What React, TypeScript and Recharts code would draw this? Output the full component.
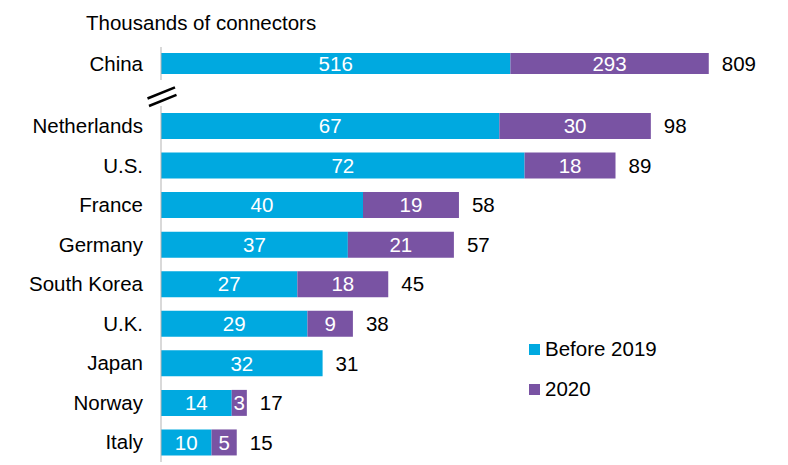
import React from 'react';
import { BarChart, Bar, XAxis, YAxis, LabelList, Legend } from 'recharts';

const categories = ['China', 'Netherlands', 'U.S.', 'France', 'Germany', 'South Korea', 'U.K.', 'Japan', 'Norway', 'Italy'];
const before2019 = [516, 67, 72, 40, 37, 27, 29, 32, 14, 10];
const in2020 = [293, 30, 18, 19, 21, 18, 9, 0, 3, 5];
const totals = [809, 98, 89, 58, 57, 45, 38, 31, 17, 15];
const seriesNames = ['Before 2019', '2020'];

const BLUE = '#00A9E0';
const PURPLE = '#7953A3';
const FONT = 'Arial, "Liberation Sans", sans-serif';
const FS = 20.5;

const rows = categories.map((name, i) => ({
  name,
  before: before2019[i],
  after: in2020[i],
  total: totals[i],
}));
const chinaRows = rows.slice(0, 1);
const otherRows = rows.slice(1);

const hideZero = (v: any) => (v ? v : '');

function LegendContent(props: any) {
  const payload = [...(props.payload || [])].sort(
    (a: any, b: any) => seriesNames.indexOf(a.value) - seriesNames.indexOf(b.value)
  );
  return (
    <div style={{ fontFamily: FONT, fontSize: FS, color: '#000' }}>
      {payload.map((p: any) => (
        <div key={p.value} style={{ display: 'flex', alignItems: 'center', height: 40 }}>
          <span style={{ display: 'inline-block', width: 11, height: 11, background: p.color, marginRight: 5 }} />
          <span>{p.value}</span>
        </div>
      ))}
    </div>
  );
}

function makeTotalLabel(data: any[]) {
  return (props: any) => {
    const { x, y, width, height, index } = props;
    const d = data[index];
    if (!d || !d.before) return null;
    const end = Number(x) + (Number(width) * (d.before + d.after)) / d.before;
    return (
      <text x={end + 13} y={Number(y) + Number(height) / 2} dy="0.355em" textAnchor="start" fontSize={FS} fontFamily={FONT} fill="#000">
        {d.total}
      </text>
    );
  };
}

export default function App() {
  const axisStroke = '#b3b3b3';
  const tick = { fill: '#000', fontSize: FS, fontFamily: FONT };
  const inner = { fill: '#fff', fontSize: FS, fontFamily: FONT };
  return (
    <div style={{ position: 'absolute', left: 0, top: 0, width: 788, height: 465, fontFamily: FONT, background: '#fff' }}>
      <svg width={788} height={465} style={{ position: 'absolute', left: 0, top: 0 }}>
        <text x={86} y={30} fontSize={FS} fontFamily={FONT} fill="#000">Thousands of connectors</text>
        <line x1={147.5} y1={98.5} x2={175} y2={87.3} stroke="#000" strokeWidth={2.5} />
        <line x1={149} y1={106} x2={176.5} y2={94.8} stroke="#000" strokeWidth={2.5} />
      </svg>
      <div style={{ position: 'absolute', left: 0, top: 47 }}>
        <BarChart width={788} height={33} data={chinaRows} layout="vertical" margin={{ top: 0, right: 21, bottom: 0, left: 0 }} barSize={21}>
          <XAxis type="number" hide domain={[0, 895]} />
          <YAxis type="category" dataKey="name" width={161} tickSize={0} tickMargin={18} tick={tick} axisLine={{ stroke: axisStroke }} tickLine={false} interval={0} />
          <Bar dataKey="before" stackId="s" fill={BLUE} isAnimationActive={false}>
            <LabelList dataKey="before" position="center" style={inner} formatter={hideZero} />
            <LabelList dataKey="total" content={makeTotalLabel(chinaRows)} />
          </Bar>
          <Bar dataKey="after" stackId="s" fill={PURPLE} isAnimationActive={false}>
            <LabelList dataKey="after" position="center" style={inner} formatter={hideZero} />
          </Bar>
        </BarChart>
      </div>
      <div style={{ position: 'absolute', left: 0, top: 106 }}>
        <BarChart width={788} height={356} data={otherRows} layout="vertical" margin={{ top: 0, right: 21, bottom: 0, left: 0 }} barSize={26}>
          <XAxis type="number" hide domain={[0, 120]} />
          <YAxis type="category" dataKey="name" width={161} tickSize={0} tickMargin={18} tick={tick} axisLine={{ stroke: axisStroke }} tickLine={false} interval={0} />
          <Legend layout="vertical" align="center" verticalAlign="middle" content={<LegendContent />} wrapperStyle={{ left: 529, top: 223, width: 220, height: 80 }} />
          <Bar dataKey="before" name={seriesNames[0]} stackId="s" fill={BLUE} isAnimationActive={false}>
            <LabelList dataKey="before" position="center" style={inner} formatter={hideZero} />
            <LabelList dataKey="total" content={makeTotalLabel(otherRows)} />
          </Bar>
          <Bar dataKey="after" name={seriesNames[1]} stackId="s" fill={PURPLE} isAnimationActive={false}>
            <LabelList dataKey="after" position="center" style={inner} formatter={hideZero} />
          </Bar>
        </BarChart>
      </div>
    </div>
  );
}
